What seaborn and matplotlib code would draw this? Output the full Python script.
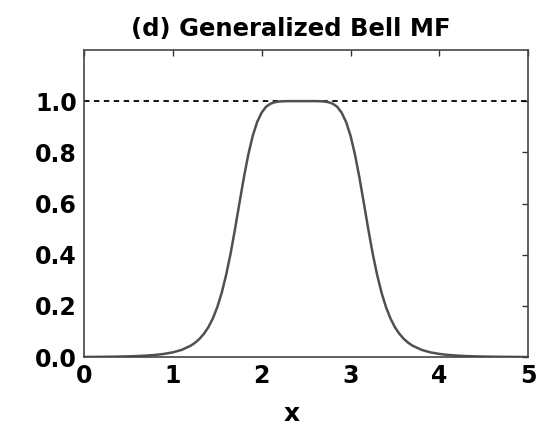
import matplotlib
matplotlib.use("Agg")
import matplotlib.pyplot as plt
import seaborn as sns
import pandas as pd

# Values
x_vals = [0.0, 0.1, 0.2, 0.3, 0.4, 0.5, 0.6, 0.7, 0.8, 0.9,
          1.0, 1.1, 1.2, 1.25, 1.3, 1.35, 1.4, 1.45, 1.5, 1.55, 1.6, 1.65, 1.7, 1.75,
          1.8, 1.85, 1.9, 1.95, 2.0, 2.05, 2.1, 2.15, 2.2, 2.25, 2.3, 2.4, 2.5, 2.6,
          2.65, 2.7, 2.75, 2.8, 2.85, 2.9, 2.95, 3.0, 3.05, 3.1, 3.15, 3.2, 3.25,
          3.3, 3.35, 3.4, 3.45, 3.5, 3.55, 3.6, 3.65, 3.7, 3.8, 3.9,
          4.0, 4.1, 4.2, 4.3, 4.4, 4.5, 4.6, 4.7, 4.8, 4.9, 5.0]
mf_vals = [0.0008, 0.0011, 0.0014, 0.0018, 0.0024, 0.0032, 0.0044, 0.0062, 0.0087, 0.0127,
           0.0188, 0.0286, 0.0446, 0.0562, 0.0714, 0.0913, 0.117, 0.151, 0.195, 0.251, 0.321, 0.404, 0.500, 0.602,
           0.702, 0.792, 0.865, 0.919, 0.955, 0.978, 0.990, 0.996, 0.9986, 0.9996, 1.0, 1.0, 1.0, 1.0,
           0.9996, 0.9986, 0.996, 0.990, 0.978, 0.955, 0.919, 0.865, 0.792, 0.702, 0.602, 0.500, 0.404,
           0.321, 0.251, 0.195, 0.151, 0.117, 0.0913, 0.0714, 0.0562, 0.0446, 0.0286, 0.0188,
           0.0127, 0.0087, 0.0062, 0.0044, 0.0032, 0.0024, 0.0018, 0.0014, 0.0011, 0.0008, 0.0006]
ref_level = 1.0
x_ticks = [0, 1, 2, 3, 4, 5]
y_ticks = [0.0, 0.2, 0.4, 0.6, 0.8, 1.0]
y_tick_labels = ["0.0", "0.2", "0.4", "0.6", "0.8", "1.0"]
title_text = "(d) Generalized Bell MF"
xlabel_text = "x"

sns.set_theme(style="white")
plt.rcParams['font.family'] = ['DejaVu Sans']
plt.rcParams['text.color'] = 'black'
plt.rcParams['axes.labelcolor'] = 'black'

df = pd.DataFrame({"x": x_vals, "mf": mf_vals})

fig = plt.figure(figsize=(5.56, 4.34), dpi=100)
ax = fig.add_axes([0.151, 0.177, 0.799, 0.708])

ax.axhline(ref_level, color="black", linestyle=(0, (3, 2.5)), linewidth=1.3, zorder=1)
sns.lineplot(data=df, x="x", y="mf", ax=ax, color="#505050", linewidth=1.8, zorder=2)

ax.set_xlim(0, 5)
ax.set_ylim(0, 1.2)
ax.set_xticks(x_ticks)
ax.set_xticklabels([str(t) for t in x_ticks])
ax.set_yticks(y_ticks)
ax.set_yticklabels(y_tick_labels)
ax.tick_params(direction="in", length=4, width=1, top=True, right=True,
               labelsize=17, colors="#333333", labelcolor="black", pad=5)
for lab in ax.get_xticklabels() + ax.get_yticklabels():
    lab.set_fontweight("bold")
for s in ax.spines.values():
    s.set_color("#444444")
    s.set_linewidth(1.2)

ax.set_title(title_text, fontsize=17.5, fontweight="bold", pad=10, x=0.466, color="black")
ax.set_xlabel(xlabel_text, fontsize=18, fontweight="bold", color="black")
ax.xaxis.set_label_coords(0.468, -0.145)
ax.set_ylabel("")

fig.savefig("out.png", dpi=100, facecolor="white")
